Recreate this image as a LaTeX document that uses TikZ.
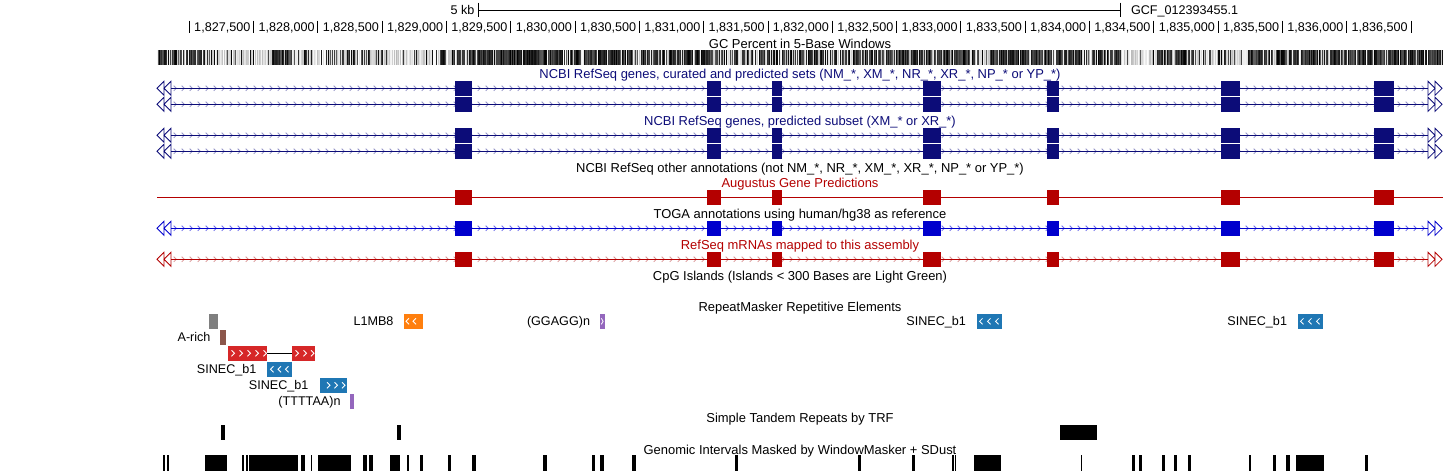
\documentclass[tikz,border=0pt]{standalone}
\usepackage{fontspec}
\setmainfont{Liberation Sans}
\newcommand\trk{\fontsize{12.6}{15}\selectfont}
\newcommand\trkbig{\fontsize{12.95}{15}\selectfont}
\definecolor{navy}{RGB}{12,12,120}
\definecolor{navylight}{RGB}{150,150,200}
\definecolor{togablue}{RGB}{0,0,205}
\definecolor{togalight}{RGB}{110,110,235}
\definecolor{augred}{RGB}{180,0,0}
\definecolor{mrnalight}{RGB}{220,150,150}
\definecolor{rgrey}{RGB}{127,127,127}
\definecolor{rbrown}{RGB}{140,86,75}
\definecolor{rred}{RGB}{214,39,40}
\definecolor{rblue}{RGB}{31,119,180}
\definecolor{rorange}{RGB}{255,127,14}
\definecolor{rpurple}{RGB}{148,103,189}
\def\exons{455/472,707/721,772/782,923/941,1047/1059,1221/1240,1374/1394}
\newcommand\generow[3]{%
  \foreach \cx in {175,183,...,1423} {\draw[#3, line width=0.8pt] (\cx-1.3,#1-2.6) -- (\cx+1.3,#1) -- (\cx-1.3,#1+2.6);}
  \draw[#2] (171,#1) -- (1428,#1);
  \foreach \a/\b in \exons {\fill[#2] (\a,#1-7.3) rectangle (\b,#1+7.4);}
  \draw[#2, line width=0.8pt] (157,#1) -- (164,#1-7) -- (164,#1+7) -- cycle (164,#1) -- (171,#1-7) -- (171,#1+7) -- cycle;
  \draw[#2, line width=0.8pt] (1442,#1) -- (1435,#1-7) -- (1435,#1+7) -- cycle (1435,#1) -- (1428,#1-7) -- (1428,#1+7) -- cycle;
}
% white chevrons inside repeat boxes: #1 y, #2 list of centres, #3 direction (1 right, -1 left)
\newcommand\chev[3]{%
  \foreach \cx in {#2} {\draw[white, line width=0.8pt] (\cx-1.5*#3,#1-3) -- (\cx+1.5*#3,#1) -- (\cx-1.5*#3,#1+3);}
}
\begin{document}
\begin{tikzpicture}[x=1pt,y=-1pt, line width=1pt,
  every node/.style={inner sep=0pt, outer sep=0pt, font=\trk},
  tlabel/.style={anchor=base, font=\trkbig},
  rlabel/.style={anchor=base east}]
\useasboundingbox[fill=white] (0,0) rectangle (1443,472);

% ---- scale bar
\node[anchor=base east] (kb) at (474.5,14.5) {5 kb};
\draw (478.3,2.5) -- (478.3,17.2) (478.3,10) -- (1120.8,10) (1120.8,2.5) -- (1120.8,17.2);
\node[anchor=base west] (asm) at (1131,14.5) {GCF\_012393455.1};

% ---- ruler
\foreach \k in {0,...,19} {\draw (189.3+64.3*\k,20.7) -- ++(0,12.6);}
\foreach \k/\t in {1/{1,827,500},2/{1,828,000},3/{1,828,500},4/{1,829,000},5/{1,829,500},6/{1,830,000},7/{1,830,500},8/{1,831,000},9/{1,831,500},10/{1,832,000},11/{1,832,500},12/{1,833,000},13/{1,833,500},14/{1,834,000},15/{1,834,500},16/{1,835,000},17/{1,835,500},18/{1,836,000},19/{1,836,500}}
  {\node[anchor=base east] (pos\k) at ({189.3+64.3*\k-3.3},31.3) {\t};}

% ---- GC percent
\node[tlabel] (gclbl) at (800,48) {GC Percent in 5-Base Windows};
\pgfmathsetseed{7}
\foreach \a/\b/\p in {157/175/0.8,175/200/0.6,200/212/0.35,212/272/0.2,272/292/0.9,292/345/0.25,345/370/0.5,370/440/0.2,440/470/0.6,470/560/0.88,560/650/0.78,650/720/0.78,720/760/0.5,760/900/0.68,900/975/0.82,975/990/0.2,990/1060/0.82,1060/1120/0.75,1120/1157/0.12,1157/1200/0.6,1200/1250/0.45,1250/1443/0.78}{
  \pgfmathtruncatemacro\e{\b-1}
  \foreach \i in {\a,...,\e} {
    \pgfmathsetmacro\k{rnd<\p ? 62+38*rnd : 28*rnd}
    \fill[black!\k] (\i,50) rectangle (\i+1,65);
  }
}

% ---- NCBI RefSeq curated + predicted
\node[tlabel, text=navy] (t1lbl) at (800,78.3) {NCBI RefSeq genes, curated and predicted sets (NM\_*, XM\_*, NR\_*, XR\_*, NP\_* or YP\_*)};
\generow{88.3}{navy}{navylight}
\generow{104.3}{navy}{navylight}

% ---- NCBI RefSeq predicted subset
\node[tlabel, text=navy] (t2lbl) at (800,125.3) {NCBI RefSeq genes, predicted subset (XM\_* or XR\_*)};
\generow{135.3}{navy}{navylight}
\generow{151.3}{navy}{navylight}

% ---- other annotations
\node[tlabel] (t3lbl) at (800,172.3) {NCBI RefSeq other annotations (not NM\_*, NR\_*, XM\_*, XR\_*, NP\_* or YP\_*)};

% ---- Augustus
\node[tlabel, text=augred] (auglbl) at (800,187.3) {Augustus Gene Predictions};
\draw[augred] (157,197.3) -- (1443,197.3);
\foreach \a/\b in \exons {\fill[augred] (\a,197.3-7.3) rectangle (\b,197.3+7.4);}

% ---- TOGA
\node[tlabel] (togalbl) at (800,218.3) {TOGA annotations using human/hg38 as reference};
\generow{228.3}{togablue}{togalight}

% ---- RefSeq mRNAs
\node[tlabel, text=augred] (mrnalbl) at (800,249.3) {RefSeq mRNAs mapped to this assembly};
\generow{259.3}{augred}{mrnalight}

% ---- CpG
\node[tlabel] (cpglbl) at (800,280.3) {CpG Islands (Islands < 300 Bases are Light Green)};

% ---- RepeatMasker
\node[tlabel] (rmlbl) at (800,311.3) {RepeatMasker Repetitive Elements};
% row 1
\fill[rgrey] (209,314) rectangle (218,328.7);
\node[rlabel] (l1mb8) at (393.5,325.8) {L1MB8};
\fill[rorange] (404,314) rectangle (423,328.7);
\chev{321.3}{407.5,414.5}{-1}
\node[rlabel] (ggagg) at (590,325.8) {(GGAGG)n};
\fill[rpurple] (600,314) rectangle (604.5,328.7);
\chev{321.3}{602.2}{0.6}
\node[rlabel] (sinec1) at (966,325.8) {SINEC\_b1};
\fill[rblue] (977,314) rectangle (1001.5,328.7);
\chev{321.3}{981,989,997}{-1}
\node[rlabel] (sinec2) at (1287,325.8) {SINEC\_b1};
\fill[rblue] (1298,314) rectangle (1323,328.7);
\chev{321.3}{1302,1310,1318}{-1}
% row 2
\node[rlabel] (arich) at (210.5,341.8) {A-rich};
\fill[rbrown] (220,330) rectangle (226.3,344.7);
% row 3
\fill[rred] (228,346) rectangle (267,360.7);
\draw (267,353.3) -- (292.3,353.3);
\fill[rred] (292.3,346) rectangle (314.7,360.7);
\chev{353.3}{233,241,249,257,265}{1}
\chev{353.3}{297,305,312.5}{1}
% row 4
\node[rlabel] (sinec3) at (256.5,373.8) {SINEC\_b1};
\fill[rblue] (267,362) rectangle (292,376.7);
\chev{369.3}{272,279.5,287}{-1}
% row 5
\node[rlabel] (sinec4) at (308.5,389.8) {SINEC\_b1};
\fill[rblue] (320,378) rectangle (347,392.7);
\chev{385.3}{328.5,336,343.5}{1}
% row 6
\node[rlabel] (ttttaa) at (340.5,405.8) {(TTTTAA)n};
\fill[rpurple] (350,394) rectangle (354.3,408.7);

% ---- TRF
\node[tlabel] (trflbl) at (800,422.8) {Simple Tandem Repeats by TRF};
\foreach \a/\b in {221/225.3,396.7/400.9,1060/1096.7} {\fill[black] (\a,425) rectangle (\b,440);}

% ---- WindowMasker
\node[tlabel] (wmlbl) at (800,454) {Genomic Intervals Masked by WindowMasker + SDust};
\foreach \a/\b in {162.7/164.7,166.7/168.7,205/226.7,242.3/244.3,246/248,249.3/298.3,300.7/305.3,311/312.3,318.3/351.3,363.3/366.7,369.3/372.7,390/400,406.7/408.7,420/423.3,447.7/451,471.7/475.7,543.3/546.7,591.7/595,600/604,632.3/635.7,735/738.3,858.3/861,912.3/915,952/953.7,955/956.3,974/1000.7,1081.3/1082.3,1132/1134.7,1139.2/1142,1162/1164.7,1174/1176.7,1188/1190.7,1249/1251,1273.3/1275.7,1286/1290,1296/1324,1365/1367.7}
  {\fill[black] (\a,455.3) rectangle (\b,470.7);}
\end{tikzpicture}
\end{document}
